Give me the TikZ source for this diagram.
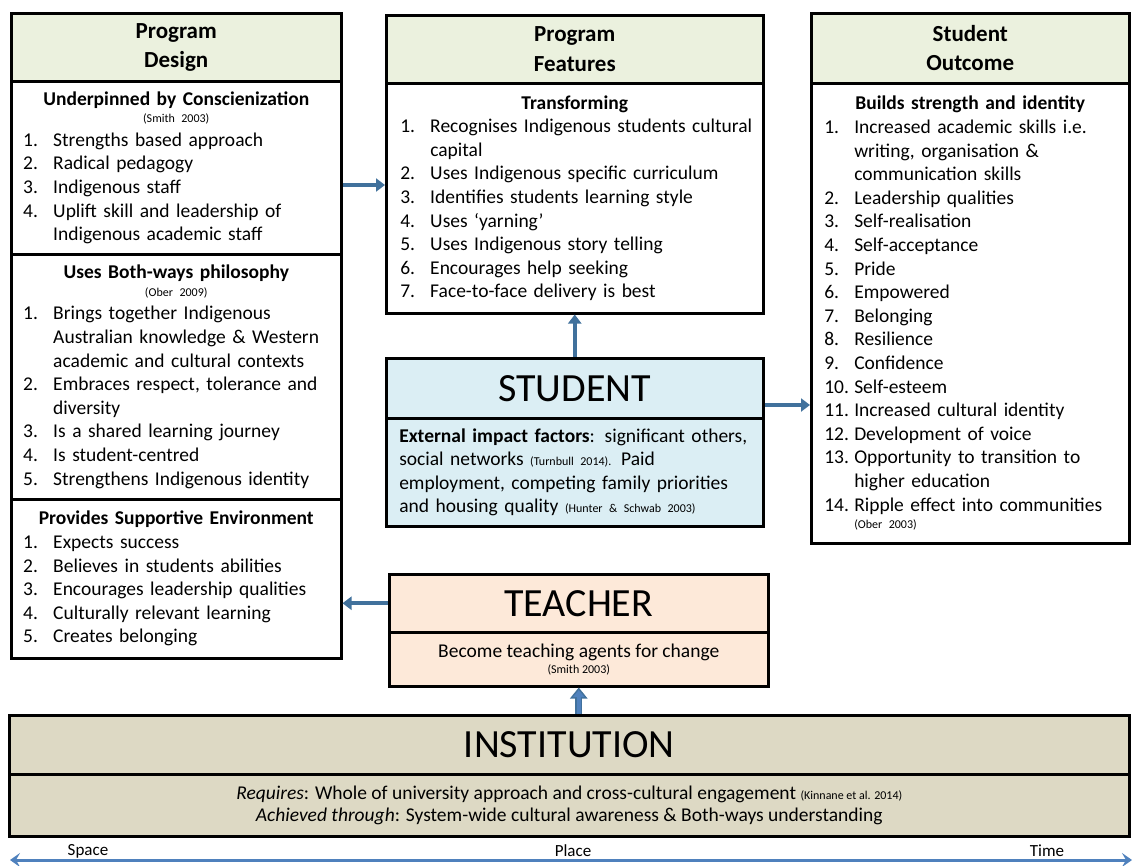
\documentclass[tikz,border=0pt]{standalone}
\usepackage{fontspec}
\setmainfont{Carlito}
\usetikzlibrary{arrows.meta}

\definecolor{hdrgreen}{HTML}{EBF1DE}
\definecolor{stublue}{HTML}{DBEEF4}
\definecolor{teachorange}{HTML}{FDE9D9}
\definecolor{insttan}{HTML}{DDD9C4}
\definecolor{arrowblue}{HTML}{41719C}
\definecolor{axisblue}{HTML}{4F81BD}

\newlength\lblw
\setlength\lblw{30pt}
% numbered line with hanging indent
\newcommand\itm[2]{\par\hangindent=\lblw\hangafter=1\noindent\makebox[\lblw][l]{#1}#2\par}
\newcommand\refnote[1]{{\fontsize{12}{14}\selectfont #1}}
\newcommand\subhd[1]{\centerline{\bfseries #1}}

\begin{document}
\begin{tikzpicture}[x=1pt,y=-1pt]

      \tikzset{box/.style={draw, line width=2.5pt, inner sep=0pt, anchor=north west},
               hdr/.style={box, fill=hdrgreen, align=center, font=\fontsize{23}{29.5}\selectfont\bfseries},
               lst/.style={box, fill=white, inner xsep=12pt, font=\fontsize{19.5}{23.6}\selectfont,
                           execute at begin node={\raggedright\hyphenpenalty=10000\exhyphenpenalty=10000}},
               bigtitle/.style={box, align=center, font=\fontsize{40}{44}\selectfont},
               link/.style={draw=arrowblue, line width=4pt, -{Triangle[length=9pt,width=13pt]}},
               blocklink/.style={draw=arrowblue, line width=7pt, -{Triangle[length=11pt,width=17pt]},
                                 postaction={draw=axisblue, line width=3.5pt, shorten >=2.5pt, -{Triangle[length=7pt,width=11pt]}}},
               axis/.style={draw=axisblue, line width=3pt, {Stealth[length=10pt,width=14pt,inset=4pt]}-{Stealth[length=10pt,width=14pt,inset=4pt]}},
               axlbl/.style={font=\fontsize{17}{20}\selectfont, inner sep=0pt}}

      \useasboundingbox (0,0) rectangle (1135,865);

% Program design
      \node[hdr, minimum width=330pt, minimum height=68pt] (pd) at (10,12) {Program\\Design};
      \node[lst, minimum width=330pt, minimum height=173pt, text width=306pt] (pd1) at (10,80) {
            \subhd{Underpinned by Conscienization}\vspace{-6pt}
            \centerline{\refnote{(Smith 2003)}}
            \itm{1.}{Strengths based approach}
            \itm{2.}{Radical pedagogy}
            \itm{3.}{Indigenous staff}
            \itm{4.}{Uplift skill and leadership of\newline Indigenous academic staff}};
      \node[lst, minimum width=330pt, minimum height=245pt, text width=306pt] (pd2) at (10,253) {
            \subhd{Uses Both-ways philosophy}\vspace{-6pt}
            \centerline{\refnote{(Ober 2009)}}
            \itm{1.}{Brings together Indigenous\newline Australian knowledge \& Western\newline academic and cultural contexts}
            \itm{2.}{Embraces respect, tolerance and\newline diversity}
            \itm{3.}{Is a shared learning journey}
            \itm{4.}{Is student-centred}
            \itm{5.}{Strengthens Indigenous identity}};
      \node[lst, minimum width=330pt, minimum height=159pt, text width=306pt] (pd3) at (10,498) {
            \subhd{Provides Supportive Environment}
            \itm{1.}{Expects success}
            \itm{2.}{Believes in students abilities}
            \itm{3.}{Encourages leadership qualities}
            \itm{4.}{Culturally relevant learning}
            \itm{5.}{Creates belonging}};

% Program features
      \node[hdr, minimum width=377pt, minimum height=68pt] (pf) at (385,14) {Program\\Features};
      \node[lst, minimum width=377pt, minimum height=230pt, text width=349pt, inner xsep=14pt] (pf1) at (385,82) {
            \subhd{Transforming}
            \itm{1.}{\mbox{Recognises Indigenous students cultural}\newline capital}
            \itm{2.}{Uses Indigenous specific curriculum}
            \itm{3.}{Identifies students learning style}
            \itm{4.}{Uses ‘yarning’}
            \itm{5.}{Uses Indigenous story telling}
            \itm{6.}{Encourages help seeking}
            \itm{7.}{Face-to-face delivery is best}};

% Student
      \node[bigtitle, fill=stublue, minimum width=377pt, minimum height=60pt] (stu) at (385,357) {STUDENT};
      \node[lst, fill=stublue, minimum width=377pt, minimum height=108pt, text width=351pt, inner xsep=13pt] (stu1) at (385,417) {
            \mbox{\textbf{External impact factors}: significant others,}\newline
            social networks \refnote{(Turnbull 2014).} Paid\newline
            \mbox{employment, competing family priorities}\newline
            \mbox{and housing quality \refnote{(Hunter \& Schwab 2003)}}};

% Student outcome
      \node[hdr, minimum width=318pt, minimum height=70pt] (so) at (810,12) {Student\\Outcome};
      \node[lst, minimum width=318pt, minimum height=460pt, text width=292pt, inner xsep=13pt] (so1) at (810,82) {
            \subhd{Builds strength and identity}
            \itm{1.}{Increased academic skills i.e.\newline writing, organisation \&\newline communication skills}
            \itm{2.}{Leadership qualities}
            \itm{3.}{Self-realisation}
            \itm{4.}{Self-acceptance}
            \itm{5.}{Pride}
            \itm{6.}{Empowered}
            \itm{7.}{Belonging}
            \itm{8.}{Resilience}
            \itm{9.}{Confidence}
            \itm{10.}{Self-esteem}
            \itm{11.}{Increased cultural identity}
            \itm{12.}{Development of voice}
            \itm{13.}{Opportunity to transition to\newline higher education}
            \itm{14.}{Ripple effect into communities}\vspace{-6pt}
            \noindent\hspace*{\lblw}\refnote{(Ober 2003)}};

% Teacher
      \node[bigtitle, fill=teachorange, minimum width=379pt, minimum height=58pt] (teach) at (388,573) {TEACHER};
      \node[box, fill=teachorange, minimum width=379pt, minimum height=54pt, align=center, font=\fontsize{19.5}{16}\selectfont] (teach1) at (388,631) {Become teaching agents for change\\\refnote{(Smith 2003)}};

% Institution
      \node[bigtitle, fill=insttan, minimum width=1120pt, minimum height=59pt] (inst) at (8,714) {INSTITUTION};
      \node[box, fill=insttan, minimum width=1120pt, minimum height=62pt, align=center, font=\fontsize{19.5}{22}\selectfont] (inst1) at (8,773) {
            \textit{Requires}: Whole of university approach and cross-cultural engagement \refnote{(Kinnane et al. 2014)}\\
            \textit{Achieved through}: System-wide cultural awareness \& Both-ways understanding};

% Connectors
      \draw[link] (pd1.east |- 0,185) -- (pf1.west |- 0,185);
      \draw[link] (stu.north) -- (pf1.south);
      \draw[link] (stu.east |- 0,405) -- (so1.west |- 0,405);
      \draw[link] (teach.west) -- (pd3.east |- teach.west);
      \draw[blocklink] (inst.north -| teach1.south) -- (teach1.south);

% Axis
      \coordinate (axl) at (10,860);
      \coordinate (axr) at (1132,860);
      \draw[axis] (axl) -- (axr);
      \node[axlbl] (space) at (88,851) {Space};
      \node[axlbl] (place) at (573,851) {Place};
      \node[axlbl] (time) at (1047,851) {Time};

\end{tikzpicture}
\end{document}
